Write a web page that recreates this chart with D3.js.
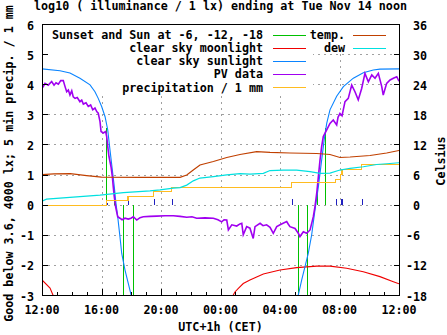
<!DOCTYPE html>
<html><head><meta charset="utf-8">
<script src="https://cdn.jsdelivr.net/npm/d3@7"></script>
<style>
body{margin:0;background:#fff}
text{font-family:"DejaVu Sans Mono",monospace;font-weight:bold;font-size:11.7px;fill:#000}
</style>
</head><body><svg id="c" width="447" height="335"></svg>
<script>
// ---- tick labels ----
const xTickHours = [0, 4, 8, 12, 16, 20, 24];
const xTickLabels = ["12:00", "16:00", "20:00", "00:00", "04:00", "08:00", "12:00"];
const xMinorHours = d3.range(0, 25, 1);
const yTicks = [-3, -2, -1, 0, 1, 2, 3, 4, 5, 6];
const y2Ticks = [-18, -12, -6, 0, 6, 12, 18, 24, 30, 36];
const gridY = [-2, -1, 0, 1, 2, 3, 4, 5];
const gridX = [4, 8, 12, 16, 20];

// ---- series (hours after 12:00 Mon) ----
const pvHours = [0.00,0.09,0.20,0.42,0.65,0.81,0.94,1.10,1.26,1.43,1.55,1.66,1.77,1.88,2.00,2.10,2.22,2.37,2.55,2.67,2.78,2.96,3.11,3.27,3.41,3.56,3.68,3.78,3.90,3.97,4.12,4.28,4.35,4.42,4.50,4.64,4.73,4.79,4.86,4.95,5.09,5.24,5.38,5.58,5.80,5.98,6.14,6.37,6.59,6.81,7.26,7.71,8.27,8.83,9.28,9.73,10.08,10.40,10.96,11.52,11.83,12.08,12.24,12.42,12.53,12.76,13.09,13.31,13.43,13.53,13.76,13.98,14.20,14.32,14.66,14.86,15.10,15.33,15.55,15.78,16.07,16.45,16.56,16.67,17.01,17.23,17.34,17.57,17.79,18.02,18.13,18.24,18.35,18.47,18.58,18.69,18.80,18.91,19.14,19.36,19.58,19.81,19.90,20.03,20.17,20.37,20.59,20.82,21.04,21.26,21.49,21.71,21.94,22.17,22.39,22.61,22.84,22.94,23.17,23.40,23.62,23.85,24.00];
const pvLog = [4.00,3.93,4.03,3.97,4.09,3.97,4.05,4.00,4.12,4.12,3.92,3.75,3.81,3.64,3.78,3.58,3.53,3.56,3.42,3.47,3.34,3.38,3.26,3.31,3.15,3.21,3.09,3.04,2.76,2.43,2.38,2.43,2.26,1.93,1.60,1.26,0.93,0.60,0.27,-0.07,-0.40,-0.45,-0.50,-0.45,-0.48,-0.45,-0.40,-0.51,-0.43,-0.40,-0.39,-0.38,-0.37,-0.37,-0.39,-0.42,-0.40,-0.45,-0.44,-0.45,-0.50,-0.57,-0.50,-0.51,-0.84,-0.67,-0.71,-0.64,-0.62,-1.00,-0.73,-0.78,-1.12,-0.73,-0.62,-0.70,-0.67,-0.75,-0.95,-0.73,-0.65,-0.56,-0.65,-0.73,-0.79,-0.95,-1.06,-0.90,-0.95,-0.84,-0.62,-0.40,-0.07,0.38,0.93,1.48,1.93,2.26,2.48,2.70,2.81,2.65,2.90,3.03,2.95,3.42,3.53,3.97,3.75,3.48,3.86,4.36,4.08,4.31,4.20,4.36,3.92,3.64,4.03,4.14,4.20,4.25,4.10];

const sunHours = [0,1.21,1.88,2.55,3.23,3.56,3.78,4.01,4.24,4.42,4.57,4.73,4.86,4.97,5.09,5.24,5.36,5.58,5.80,5.96,6.10, 12, 17.12,17.23,17.46,17.68,17.90,18.13,18.35,18.58,18.80,18.97,19.14,19.36,19.81,20.26,20.93,21.60,22.27,22.72,24];
const sunLog   = [4.51,4.45,4.37,4.20,3.98,3.75,3.53,3.26,2.92,2.48,1.82,1.15,0.60,0.05,-0.40,-1.06,-1.62,-2.17,-2.61,-2.94,-3.2, null, -3.2,-3.0,-2.50,-2.06,-1.62,-1.00,-0.18,0.60,1.48,2.15,2.70,3.15,3.60,3.92,4.20,4.38,4.47,4.50,4.51];

const moonHours = [0,0.54,0.82, 6, 12.75,12.97,13.20,13.53,13.98,14.88,16.00,17.12,18.47,19.36,20.48,21.60,22.72,23.62,24];
const moonLog   = [-2.50,-2.77,-3.1, null, -3.1,-2.90,-2.78,-2.62,-2.50,-2.30,-2.17,-2.09,-2.04,-2.04,-2.11,-2.23,-2.39,-2.56,-2.63];

// sunset, sun at -6, -12, -18 (evening), then -18, -12, -6, sunrise (morning)
const sunEventHours = [4.28, 4.87, 5.47, 6.14, 17.23, 17.84, 18.47, 19.05];
const sunEventTop   = [2.55, 0.50, -3.2, -3.2, -3.2, -3.2, 0.50, 2.55];

const precipHours = [0,4.33,5.78,7.52,8.70,16.76,19.72,20.08,20.17,21.47,24];
const precipMm    = [0,0.14,0.28,0.46,0.58,0.75,0.86,1.03,1.19,1.35,1.36];

const rainHours = [4.35,5.80,7.55,8.72,16.79,19.74,20.10,20.19,21.49];
const rainMm    = [0.07,0.18,0.18,0.18,0.18,0.18,0.18,0.18,0.18];

const tempHours = [0,0.8,1.9,3.0,4.0,6.6,9.28,9.73,10.17,10.62,11.52,12.42,13.31,14.43,15.33,16.67,18.47,19.36,20.03,20.71,22.05,23.17,24];
const tempC     = [6.0,6.15,6.2,5.8,5.5,5.45,5.45,5.9,6.9,7.9,8.6,9.4,10.0,10.55,10.4,10.3,10.2,10.0,9.4,9.5,9.8,10.3,10.8];

const dewHours = [0,0.3,2.1,3.9,5.47,7.26,7.93,8.83,9.28,9.73,10.17,10.62,11.52,12.42,13.31,13.98,14.88,15.33,16.22,17.12,18.02,18.69,19.36,20.03,20.71,21.6,22.5,23.39,24];
const dewC     = [0.7,1.1,1.5,1.9,2.4,2.75,2.95,3.3,3.4,3.9,4.75,5.3,5.6,5.95,6.2,6.1,6.25,6.8,6.9,6.9,6.6,6.25,6.3,6.9,7.25,7.55,8.0,8.2,8.35];

const leftKey = [
  ["Sunset and Sun at -6, -12, -18", "#00c000"],
  ["clear sky moonlight", "#f00000"],
  ["clear sky sunlight", "#0a84ff"],
  ["PV data", "#a000f0"],
  ["precipitation / 1 mm", "#ffbc20"]
];
const rightKey = [["temp.", "#c04000"], ["dew", "#00e0e0"]];

// ---- layout ----
const L = 42, R = 399, T = 24, B = 295;
const x = d3.scaleLinear().domain([0, 24]).range([L, R]);
const y = d3.scaleLinear().domain([-3, 6]).range([B, T]);
const y2 = d3.scaleLinear().domain([-18, 36]).range([B, T]);

const svg = d3.select("#c");
svg.append("defs").append("clipPath").attr("id", "pc")
  .append("rect").attr("x", L).attr("y", T).attr("width", R - L).attr("height", B - T);

// grid
const g = svg.append("g").attr("shape-rendering", "crispEdges")
  .attr("stroke", "#a0a0a0").attr("stroke-dasharray", "2,4");
g.selectAll(".gy").data(gridY).join("line")
  .attr("x1", L).attr("x2", R).attr("y1", d => Math.round(y(d)) + 0.5).attr("y2", d => Math.round(y(d)) + 0.5);
g.selectAll(".gx").data(gridX).join("line")
  .attr("y1", T).attr("y2", B).attr("x1", d => Math.round(x(d)) + 0.5).attr("x2", d => Math.round(x(d)) + 0.5);

// opaque key boxes
svg.append("rect").attr("x", L + 1).attr("y", T + 1).attr("width", 270).attr("height", 68).attr("fill", "#fff");
svg.append("rect").attr("x", 313).attr("y", T + 1).attr("width", R - 313).attr("height", 28).attr("fill", "#fff");

const plot = svg.append("g").attr("clip-path", "url(#pc)");

// sun events
plot.selectAll(".se").data(sunEventHours).join("line")
  .attr("stroke", "#00c000").attr("stroke-width", 1.2).attr("shape-rendering", "crispEdges")
  .attr("x1", d => Math.round(x(d)) + 0.5).attr("x2", d => Math.round(x(d)) + 0.5)
  .attr("y1", y(0)).attr("y2", (d, i) => y(sunEventTop[i]));

function series(hs, vs) {
  return hs.map((h, i) => [h, vs[i]]);
}
const lineL = d3.line().defined(d => d[1] !== null).x(d => x(d[0])).y(d => y(d[1]));
const lineR = d3.line().defined(d => d[1] !== null).x(d => x(d[0])).y(d => y2(d[1]));

plot.append("path").datum(series(moonHours, moonLog)).attr("d", lineL)
  .attr("fill", "none").attr("stroke", "#f00000").attr("stroke-width", 1.1);
plot.append("path").datum(series(sunHours, sunLog)).attr("d", lineL)
  .attr("fill", "none").attr("stroke", "#0a84ff").attr("stroke-width", 1.1);
plot.append("path").datum(series(pvHours, pvLog)).attr("d", lineL)
  .attr("fill", "none").attr("stroke", "#a000f0").attr("stroke-width", 1.6).attr("stroke-linejoin", "miter");

// 5-min rain impulses
plot.selectAll(".rain").data(rainHours).join("line")
  .attr("stroke", "#2020c0").attr("stroke-width", 1.3).attr("shape-rendering", "crispEdges")
  .attr("x1", d => Math.round(x(d)) + 0.5).attr("x2", d => Math.round(x(d)) + 0.5)
  .attr("y1", y(0)).attr("y2", (d, i) => y(rainMm[i]));

plot.append("path").datum(series(precipHours, precipMm))
  .attr("d", d3.line().curve(d3.curveStepAfter).x(d => x(d[0])).y(d => Math.round(y(d[1])) + 0.5))
  .attr("fill", "none").attr("stroke", "#ffbc20").attr("stroke-width", 1.1).attr("shape-rendering", "crispEdges");

plot.append("path").datum(series(tempHours, tempC)).attr("d", lineR)
  .attr("fill", "none").attr("stroke", "#c04000").attr("stroke-width", 1.2);
plot.append("path").datum(series(dewHours, dewC)).attr("d", lineR)
  .attr("fill", "none").attr("stroke", "#00e0e0").attr("stroke-width", 1.2);

// frame + ticks
const fr = svg.append("g").attr("shape-rendering", "crispEdges").attr("stroke", "#000");
fr.append("rect").attr("x", L + 0.5).attr("y", T + 0.5).attr("width", R - L).attr("height", B - T).attr("fill", "none");
fr.selectAll(".yl").data(yTicks).join("line")
  .attr("x1", L).attr("x2", L + 6).attr("y1", d => Math.round(y(d)) + 0.5).attr("y2", d => Math.round(y(d)) + 0.5);
fr.selectAll(".yr").data(y2Ticks).join("line")
  .attr("x1", R - 5).attr("x2", R).attr("y1", d => Math.round(y2(d)) + 0.5).attr("y2", d => Math.round(y2(d)) + 0.5);
fr.selectAll(".xm").data(xMinorHours).join("line")
  .attr("x1", d => Math.round(x(d)) + 0.5).attr("x2", d => Math.round(x(d)) + 0.5)
  .attr("y1", B).attr("y2", d => xTickHours.includes(d) ? B - 6 : B - 3);

// tick labels
svg.selectAll(".ylab").data(yTicks).join("text")
  .attr("x", 34).attr("y", d => y(d) + 5.5).attr("text-anchor", "end").text(d => d);
svg.selectAll(".y2lab").data(y2Ticks).join("text")
  .attr("x", d => d < 0 ? 406 : 413).attr("y", d => y2(d) + 5.5).text(d => d);
svg.selectAll(".xlab").data(xTickHours).join("text")
  .attr("x", d => x(d)).attr("y", 313.5).attr("text-anchor", "middle").text((d, i) => xTickLabels[i]);

// titles
svg.append("text").attr("x", 220.5).attr("y", 10).attr("text-anchor", "middle")
  .text("log10 ( illuminance / 1 lx) ending at Tue Nov 14 noon");
svg.append("text").attr("x", 220.5).attr("y", 331).attr("text-anchor", "middle").text("UTC+1h (CET)");
svg.append("text").attr("transform", "translate(13,163.5) rotate(-90)").attr("text-anchor", "middle")
  .text("Good below 3.6, 4000 lx; 5 min precip. / 1 mm");
svg.append("text").attr("transform", "translate(445,161) rotate(-90)").attr("text-anchor", "middle").text("Celsius");

// legend
const rowY = [34.5, 47.7, 60.9, 74.1, 87.3];
leftKey.forEach((k, i) => {
  svg.append("text").attr("x", 263).attr("y", rowY[i] + 4.3).attr("text-anchor", "end").text(k[0]);
  svg.append("line").attr("x1", 273).attr("x2", 306).attr("y1", Math.round(rowY[i]) + 0.5).attr("y2", Math.round(rowY[i]) + 0.5)
    .attr("stroke", k[1]).attr("stroke-width", 1.1).attr("shape-rendering", "crispEdges");
});
rightKey.forEach((k, i) => {
  svg.append("text").attr("x", 345).attr("y", rowY[i] + 4.3).attr("text-anchor", "end").text(k[0]);
  svg.append("line").attr("x1", 353).attr("x2", 386).attr("y1", Math.round(rowY[i]) + 0.5).attr("y2", Math.round(rowY[i]) + 0.5)
    .attr("stroke", k[1]).attr("stroke-width", 1.1).attr("shape-rendering", "crispEdges");
});
</script>
</body></html>
